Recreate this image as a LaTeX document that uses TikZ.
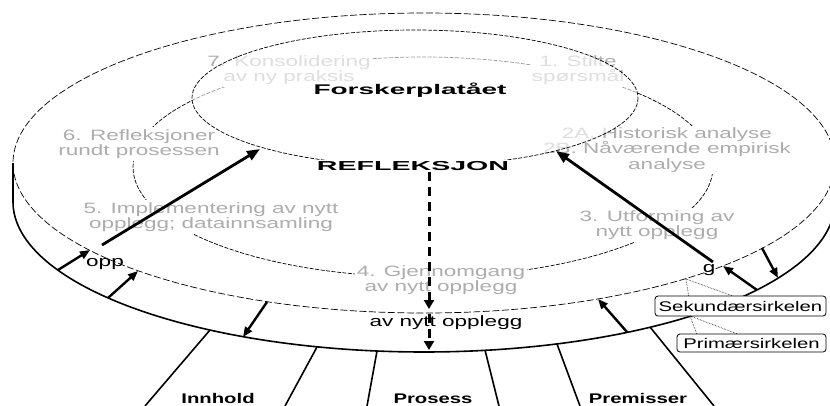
\documentclass[tikz,border=0pt]{standalone}
\usepackage{fontspec}
\setmainfont{Liberation Sans}
\usepackage{graphicx}
\usetikzlibrary{arrows.meta}
\newcommand{\sx}[2][1.5]{\scalebox{#1}[1]{#2}}
\begin{document}
\begin{tikzpicture}[x=1pt,y=-1pt,
  thinln/.style={line width=0.7pt, dash pattern=on 4pt off 1.5pt},
  topell/.style={line width=0.7pt, dash pattern=on 7pt off 2.5pt},
  edgeln/.style={line width=1.6pt},
  legln/.style={line width=1.6pt},
  steptxt/.style={font=\fontsize{15}{15.5}\selectfont, text=black!32, fill=white, align=center, inner sep=2pt},
  walltxt/.style={font=\fontsize{15}{15.5}\selectfont, text=black, inner sep=1pt},
  boldtxt/.style={font=\fontsize{14}{14}\selectfont\bfseries, inner sep=1pt},
  bigarr/.style={line width=2.8pt, -{Triangle[length=13pt,width=10pt]}},
  smallarr/.style={line width=2.4pt, -{Triangle[length=10pt,width=8pt]}},
  dasharr/.style={line width=3pt, dash pattern=on 9pt off 6pt, -{Triangle[length=9pt,width=10pt]}},
  callout/.style={draw, fill=white, rounded corners=3pt, line width=0.8pt, font=\fontsize{14}{14}\selectfont, inner xsep=3pt, inner ysep=2pt},
  ptr/.style={line width=0.6pt, densely dotted}]
\useasboundingbox (0,0) rectangle (830,405);
\clip (0,0) rectangle (830,405);

% legs
\coordinate (l1t) at (210,330); \coordinate (l1b) at (145,406);
\coordinate (l2t) at (317,347); \coordinate (l2b) at (285,406);
\coordinate (l3t) at (377,351); \coordinate (l3b) at (367,406);
\coordinate (l4t) at (485,350); \coordinate (l4b) at (499,406);
\coordinate (l5t) at (557,344); \coordinate (l5b) at (580,406);
\coordinate (l6t) at (650,327); \coordinate (l6b) at (714,406);
\foreach \i in {1,...,6} {\draw[legln] (l\i t) -- (l\i b);}

% disc: lower edge (primary circle) and top face (secondary circle)
\draw[edgeln] plot[domain=0:180, samples=120, smooth] ({424+411*cos(\x)},{202+150*sin(\x)});
\coordinate (wl1) at (13,163); \coordinate (wl2) at (13,202);
\draw[edgeln] (wl1) -- (wl2);
\draw[topell] (424,163) ellipse [x radius=411, y radius=150];

% texts on the wall
\node[walltxt] (wall) at (446,323) {\sx{av nytt opplegg}};
\node[walltxt] (wopp) at (105,264) {\sx{opp}};
\node[walltxt] (wg) at (709,270) {\sx{g}};

% small arrows between the circles
\coordinate (p1a) at (58,270);  \coordinate (p1b) at (90,250);
\coordinate (p2a) at (108,298); \coordinate (p2b) at (138,271);
\coordinate (p3a) at (267,302); \coordinate (p3b) at (243,337);
\coordinate (p4a) at (627,332); \coordinate (p4b) at (598,299);
\coordinate (p5a) at (757,290); \coordinate (p5b) at (723,266);
\coordinate (p6a) at (762,248); \coordinate (p6b) at (778,278);
\foreach \i in {1,...,6} {\draw[smallarr] (p\i a) -- (p\i b);}

% cycle of steps
\draw[thinln] (423,167) ellipse [x radius=290, y radius=110];
\node[steptxt] (s1) at (578,70) {\sx{1. Stilte}\\\sx{spørsmål}};
\node[steptxt] (s2) at (667,150) {\sx{2A. Historisk analyse}\\\sx{2B. Nåværende empirisk}\\\sx{analyse}};
\node[steptxt] (s3) at (657,225) {\sx{3. Utforming av}\\\sx{nytt opplegg}};
\node[steptxt] (s4) at (441,280) {\sx{4. Gjennomgang}\\\sx{av nytt opplegg}};
\node[steptxt] (s5) at (211,217) {\sx{5. Implementering av nytt}\\\sx{opplegg; datainnsamling}};
\node[steptxt] (s6) at (139,144) {\sx{6. Refleksjoner}\\\sx{rundt prosessen}};
\node[steptxt] (s7) at (289,70) {\sx{7. Konsolidering}\\\sx{av ny praksis}};

% research plateau
\draw[thinln, fill=white, fill opacity=0.6] (415,98) ellipse [x radius=223, y radius=68];
\node[boldtxt] (fp) at (410,90) {\sx[2.0]{Forskerplatået}};
\node[boldtxt, fill=white, font=\fontsize{13}{13}\selectfont\bfseries] (refl) at (413,166) {\sx[2.2]{REFLEKSJON}};

% main arrows
\coordinate (a5) at (102,245); \coordinate (a6) at (260,149);
\draw[bigarr] (a5) -- (a6);
\coordinate (b3) at (713,262); \coordinate (b2) at (556,151);
\draw[bigarr] (b3) -- (b2);
\coordinate (d1) at (429,309); \coordinate (d2) at (429,314); \coordinate (d3) at (429,350);
\draw[dasharr] (refl.south -| d1) -- (d1);
\draw[dasharr] (d2) -- (d3);

% labels below
\node[boldtxt, anchor=base] (inn) at (218,403) {\sx[1.45]{Innhold}};
\node[boldtxt, anchor=base] (pro) at (433,403) {\sx[1.45]{Prosess}};
\node[boldtxt, anchor=base] (pre) at (638,403) {\sx[1.45]{Premisser}};

% callouts
\node[callout, minimum width=171pt, minimum height=20pt] (sek) at (740.5,306) {\sx[1.45]{Sekundærsirkelen}};
\node[callout, minimum width=149pt, minimum height=18pt] (pri) at (751.5,343) {\sx[1.45]{Primærsirkelen}};
\coordinate (sekt) at (686,279);
\coordinate (prit) at (690,316);
\draw[ptr] (sek.north west) ++(34,0) coordinate (sk1) -- (sekt);
\draw[ptr] (sek.north west) ++(77,0) coordinate (sk2) -- (sekt);
\draw[ptr] (pri.north west) ++(20,0) coordinate (pk1) -- (prit);
\draw[ptr] (pri.north west) ++(60,0) coordinate (pk2) -- (prit);
\end{tikzpicture}
\end{document}
